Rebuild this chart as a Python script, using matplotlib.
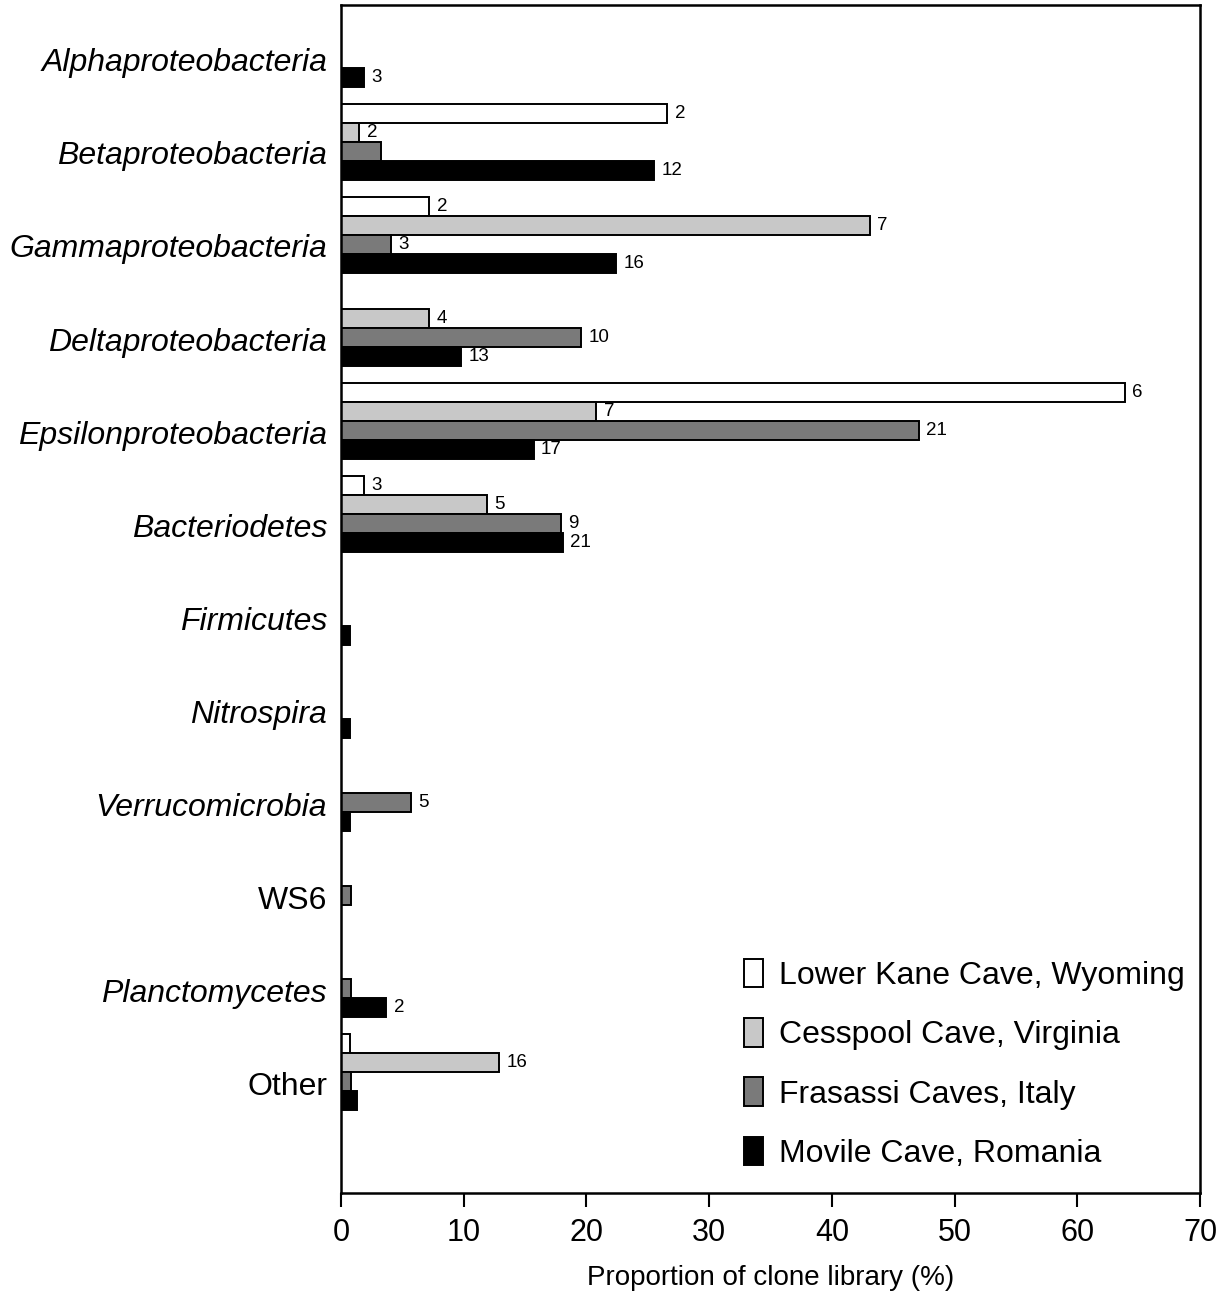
import matplotlib.pyplot as plt
from matplotlib.patches import Patch
import numpy as np

plt.rcParams['font.family'] = ['Liberation Sans', 'DejaVu Sans']

categories = ['Alphaproteobacteria', 'Betaproteobacteria', 'Gammaproteobacteria',
              'Deltaproteobacteria', 'Epsilonproteobacteria', 'Bacteriodetes',
              'Firmicutes', 'Nitrospira', 'Verrucomicrobia', 'WS6',
              'Planctomycetes', 'Other']
italic = [True] * 11 + [False]
italic[9] = False

sites = ['Lower Kane Cave, Wyoming', 'Cesspool Cave, Virginia',
         'Frasassi Caves, Italy', 'Movile Cave, Romania']
colors = ['white', '#c8c8c8', '#7a7a7a', 'black']

# proportion of clone library (%)
lower_kane = [0, 26.6, 7.2, 0, 63.9, 1.9, 0, 0, 0, 0, 0, 0.7]
cesspool = [0, 1.5, 43.1, 7.2, 20.8, 11.9, 0, 0, 0, 0, 0, 12.9]
frasassi = [0, 3.3, 4.1, 19.6, 47.1, 17.9, 0, 0, 5.7, 0.8, 0.8, 0.8]
movile = [1.9, 25.5, 22.4, 9.8, 15.7, 18.1, 0.7, 0.7, 0.7, 0, 3.7, 1.3]

# number of sequences shown next to bars ('' = none)
lk_counts = ['', '2', '2', '', '6', '3', '', '', '', '', '', '']
cp_counts = ['', '2', '7', '4', '7', '5', '', '', '', '', '', '16']
fr_counts = ['', '', '3', '10', '21', '9', '', '', '5', '', '', '']
mv_counts = ['3', '12', '16', '13', '17', '21', '', '', '', '', '2', '']

series = [lower_kane, cesspool, frasassi, movile]
counts = [lk_counts, cp_counts, fr_counts, mv_counts]

fig = plt.figure(figsize=(12.19, 12.93), dpi=100)
ax = fig.add_axes([0.2797, 0.0773, 0.7047, 0.9188])

y = np.arange(len(categories))
h = 0.205

for k in range(4):
    pos = y + (k - 1.5) * h
    vals = np.array(series[k])
    bars = ax.barh(pos, vals, height=h, color=colors[k], edgecolor='black',
                   linewidth=1.4)
    for b, v, c in zip(bars, vals, counts[k]):
        if v == 0:
            b.set_visible(False)
        if c:
            ax.text(v + 0.6, b.get_y() + h / 2, c, va='center', ha='left',
                    fontsize=13.5)

ax.set_xlim(0, 70)
ax.set_ylim(12.3, -0.47)
ax.set_xticks(range(0, 71, 10))
ax.tick_params(axis='x', labelsize=22, length=10, width=1.5, direction='out', pad=8)
ax.set_yticks(y + 0.12)
ax.set_yticklabels(categories)
for lbl, it in zip(ax.get_yticklabels(), italic):
    lbl.set_fontsize(23)
    lbl.set_style('italic' if it else 'normal')
ax.tick_params(axis='y', length=0, pad=10)
for s in ax.spines.values():
    s.set_linewidth(1.8)

ax.set_xlabel('Proportion of clone library (%)', fontsize=20, labelpad=12)

handles = [Patch(facecolor=c, edgecolor='black', linewidth=1.4) for c in colors]
ax.legend(handles, sites, loc='lower right', frameon=False, fontsize=23,
          handlelength=0.6, handleheight=1.0, handletextpad=0.5,
          labelspacing=0.85, bbox_to_anchor=(1.016, -0.004))

plt.savefig('out.png', dpi=100)
